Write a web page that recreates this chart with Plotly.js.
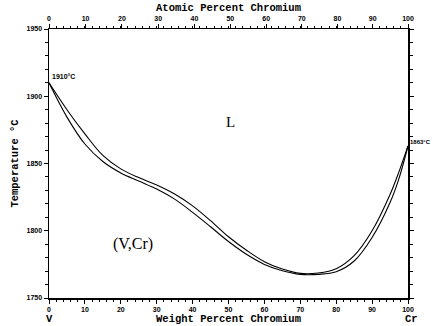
<!DOCTYPE html>
<html>
<head>
<meta charset="utf-8">
<script src="https://cdn.plot.ly/plotly-3.0.1.min.js"></script>
<style>html,body{margin:0;padding:0;background:#fff}#chart{width:432px;height:326px}</style>
</head>
<body>
<div id="chart"></div>
<script>
// Liquidus (upper curve), weight percent Cr vs temperature (°C)
const liqX = [0, 5, 10, 15, 20, 25, 30, 35, 40, 45, 50, 55, 60, 65, 70, 75, 80, 85, 90, 95, 97.5, 100];
const liqT = [1910, 1890, 1872, 1856, 1846, 1839.5, 1834, 1827.3, 1818.5, 1807.5, 1795.5, 1785.5, 1777, 1771.5, 1768.3, 1768.6, 1771.8, 1781.5, 1800, 1827, 1844, 1863];
// Solidus (lower curve)
const solX = [0, 5, 10, 15, 20, 25, 30, 35, 40, 45, 50, 55, 60, 65, 70, 75, 80, 85, 90, 95, 97.5, 100];
const solT = [1910, 1884.5, 1864.5, 1851.5, 1843, 1837, 1831, 1823.5, 1813.7, 1803, 1792, 1782.5, 1775, 1770.3, 1767.6, 1767.6, 1769.5, 1777.5, 1795, 1821, 1839, 1863];
// Atomic percent tick labels on the top axis
const atomicTicks = [0, 10, 20, 30, 40, 50, 60, 70, 80, 90, 100];
const MV = 50.94, MCr = 52.00;
const atomicPos = atomicTicks.map(a => 100 * a * MCr / (a * MCr + (100 - a) * MV));

const tickFont = {family: 'Liberation Sans', size: 7, color: '#000', weight: 'bold'};
const monoFont = {family: 'Liberation Mono', size: 10.5, color: '#000', weight: 'bold'};

const lineStyle = {color: '#000', width: 1.1, shape: 'spline', smoothing: 1};
const data = [
  {x: liqX, y: liqT, mode: 'lines', line: lineStyle, hoverinfo: 'skip', showlegend: false},
  {x: solX, y: solT, mode: 'lines', line: lineStyle, hoverinfo: 'skip', showlegend: false},
  {x: liqX, y: liqT, xaxis: 'x2', yaxis: 'y2', mode: 'lines', opacity: 0, hoverinfo: 'skip', showlegend: false}
];

const minorX = {dtick: 2, ticklen: 2, tickcolor: '#000', ticks: 'outside'};
const minorY = {dtick: 10, ticklen: 3, tickcolor: '#000', ticks: 'outside'};

const layout = {
  width: 432, height: 326,
  margin: {l: 49, r: 24, t: 29, b: 28},
  paper_bgcolor: '#fff', plot_bgcolor: '#fff',
  showlegend: false,
  xaxis: {
    range: [0, 100], dtick: 10, tick0: 0, showgrid: false, zeroline: false,
    showline: true, linecolor: '#000', linewidth: 1.5,
    ticks: 'outside', ticklen: 4, tickcolor: '#000', tickfont: tickFont,
    minor: minorX,
    title: {text: 'Weight Percent Chromium', font: monoFont, standoff: 0}
  },
  xaxis2: {
    range: [0, 100], overlaying: 'x', side: 'top', anchor: 'y',
    tickmode: 'array', tickvals: atomicPos, ticktext: atomicTicks.map(String),
    showgrid: false, zeroline: false,
    showline: true, linecolor: '#000', linewidth: 1.5,
    ticks: 'outside', ticklen: 4, tickcolor: '#000', tickfont: tickFont,
    minor: {dtick: 2, tick0: 0, ticklen: 2, tickcolor: '#000', ticks: 'outside'},
    title: {text: 'Atomic Percent Chromium', font: monoFont, standoff: 1}
  },
  yaxis: {
    range: [1750, 1950], dtick: 50, tick0: 1750, showgrid: false, zeroline: false,
    showline: true, linecolor: '#000', linewidth: 1.5,
    ticks: 'outside', ticklen: 4, tickcolor: '#000', tickfont: tickFont,
    minor: minorY,
    title: {text: 'Temperature °C', font: monoFont, standoff: 6}
  },
  yaxis2: {
    range: [1750, 1950], dtick: 50, tick0: 1750, overlaying: 'y', side: 'right', anchor: 'x',
    showgrid: false, zeroline: false, showticklabels: false,
    showline: true, linecolor: '#000', linewidth: 1.5,
    ticks: 'outside', ticklen: 4, tickcolor: '#000',
    minor: minorY
  },
  annotations: [
    {x: 0, y: 1910, xref: 'x', yref: 'y', text: '1910°C', showarrow: false,
     xanchor: 'left', yanchor: 'bottom', xshift: 1, yshift: 1,
     font: {family: 'Liberation Sans', size: 7, color: '#000', weight: 'bold'}},
    {x: 100, y: 1863, xref: 'x', yref: 'y', text: '1863°C', showarrow: false,
     xanchor: 'left', yanchor: 'bottom', xshift: 0, yshift: -1,
     font: {family: 'Liberation Sans', size: 6, color: '#000', weight: 'bold'}},
    {x: 50.5, y: 1881, xref: 'x', yref: 'y', text: 'L', showarrow: false,
     font: {family: 'Liberation Serif', size: 15, color: '#000'}},
    {x: 23.5, y: 1790, xref: 'x', yref: 'y', text: '(V,Cr)', showarrow: false,
     font: {family: 'Liberation Serif', size: 16, color: '#000'}},
    {x: 0, y: 0, xref: 'x', yref: 'paper', text: 'V', showarrow: false,
     yanchor: 'top', yshift: -13, font: monoFont},
    {x: 100, y: 0, xref: 'x', yref: 'paper', text: 'Cr', showarrow: false,
     yanchor: 'top', yshift: -13, xshift: 3, font: monoFont}
  ]
};

Plotly.newPlot('chart', data, layout, {staticPlot: true, displayModeBar: false});
</script>
</body>
</html>
